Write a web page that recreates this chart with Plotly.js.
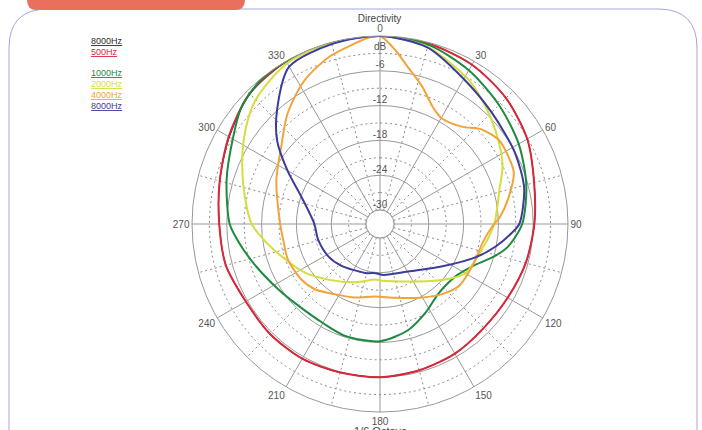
<!DOCTYPE html>
<html>
<head>
<meta charset="utf-8">
<script src="https://cdn.plot.ly/plotly-3.0.1.min.js"></script>
<style>html,body{margin:0;padding:0;background:#fff;}#chart{width:702px;height:430px;}</style>
</head>
<body>
<div id="chart"></div>
<script>
// ---- data (dB relative to on-axis, angle in degrees clockwise from top) ----
const seriesNames = ['8000Hz', '500Hz', '1000Hz', '2000Hz', '4000Hz', '8000Hz'];
const seriesColors = ['#2a2a2a', '#d8283a', '#1f8a3f', '#d4de3c', '#f2a43a', '#3c3c9c'];

const thetaBlack = [0, 15, 30, 45, 60, 75, 90, 105, 120, 135, 150, 165, 180, 195, 210, 225, 240, 255, 270, 285, 300, 315, 330, 345, 360];
const rBlack     = [0, -0.2, -0.7, -1.7, -3.1, -4.9, -5.8, -6.4, -7.0, -7.1, -6.6, -6.3, -6.0, -5.9, -5.6, -5.6, -5.7, -4.9, -4.7, -3.8, -2.4, -0.7, -0.1, 0, 0];

const thetaRed = [0, 15, 30, 45, 60, 75, 90, 105, 120, 135, 150, 165, 180, 195, 210, 225, 240, 255, 270, 285, 300, 315, 330, 345, 360];
const rRed     = [0, -0.2, -0.7, -1.7, -3.1, -4.9, -5.8, -6.4, -7.0, -7.1, -6.6, -6.3, -6.0, -5.9, -5.6, -5.6, -5.7, -4.9, -4.7, -3.8, -2.3, -0.6, 0, 0, 0];

const thetaGreen = [0, 15, 30, 45, 60, 75, 90, 100, 106, 113, 124, 139, 153, 165, 180, 197, 210, 225, 237, 252, 263, 270, 286, 300, 310, 320, 330, 345, 360];
const rGreen     = [0, -0.4, -1.8, -3.4, -4.8, -6.3, -7.9, -10.0, -12.0, -14.5, -16.5, -16.8, -15.2, -13.5, -12.2, -12.2, -12.7, -12.5, -11.6, -9.7, -7.8, -6.5, -4.9, -3.1, -1.2, -0.2, 0, 0, 0];

const thetaYellow = [0, 15, 32, 42, 51, 64, 74, 90, 100, 110, 120, 132, 153, 177, 185, 203, 223, 237, 250, 261, 270, 281, 294, 305, 315, 330, 345, 360];
const rYellow     = [0, -0.8, -3.3, -5.2, -6.8, -8.9, -11.0, -12.7, -13.9, -14.8, -15.4, -18.0, -21.3, -22.6, -22.8, -21.5, -19.3, -17.0, -14.9, -12.5, -10.3, -8.7, -6.4, -4.1, -2.1, -0.4, 0, 0];

const thetaOrange = [0, 5, 10, 17, 24, 30, 40, 47, 55, 62, 69, 78, 87, 91, 100, 114, 128, 138, 152, 168, 184, 199, 213, 225, 235, 249, 261, 270, 293, 308, 320, 332, 343, 352, 356, 360];
const rOrange     = [0, -2.3, -4.9, -7.6, -10.2, -11.3, -10.5, -8.5, -7.3, -7.4, -7.7, -9.7, -11.8, -13.0, -14.4, -14.9, -15.1, -16.2, -18.0, -19.4, -19.9, -19.0, -18.0, -16.5, -15.8, -15.4, -15.5, -15.2, -13.0, -10.8, -7.6, -4.5, -2.3, -1.0, -0.3, 0];

const thetaBlue = [0, 15, 29, 45, 62, 76, 90, 94, 101, 109, 124, 148, 176, 185, 197, 223, 238, 256, 270, 289, 300, 309, 318, 330, 345, 360];
const rBlue     = [0, -0.9, -3.4, -5.2, -6.1, -6.8, -8.4, -9.7, -12.1, -14.9, -19.4, -22.8, -23.6, -23.9, -23.6, -22.6, -21.9, -21.4, -21.1, -18.1, -14.0, -9.6, -5.9, -1.1, -0.3, 0];

const angleTicks = [0, 30, 60, 90, 120, 150, 180, 210, 240, 270, 300, 330];
const angleTickLabels = ['0', '30', '60', '90', '120', '150', '180', '210', '240', '270', '300', '330'];
const radialTicks = [-6, -12, -18, -24, -30];
const radialTickLabels = ['-6', '-12', '-18', '-24', '-30'];
const minorRings = [-27, -21, -15, -9, -3];
const minorSpokes = [15, 45, 75, 105, 135, 165, 195, 225, 255, 285, 315, 345];
const radialRange = [-30, 0];

// ---- geometry of the page (pixels) ----
const W = 702, H = 430;
const M = {l: 192, r: 134, t: 36, b: 18};
const PW = W - M.l - M.r, PH = H - M.t - M.b;
const px = x => (x - M.l) / PW;
const py = y => (H - M.b - y) / PH;
const FONT = 'Liberation Sans, Arial, sans-serif';

const traces = [];
// dotted minor grid
const fullCircle = [];
for (let a = 0; a <= 360; a += 2) fullCircle.push(a);
minorRings.forEach(v => traces.push({
  type: 'scatterpolar', mode: 'lines', theta: fullCircle, r: fullCircle.map(() => v),
  line: {color: '#8c8c8c', width: 1, dash: '2px,3px'}, hoverinfo: 'skip', showlegend: false
}));
minorSpokes.forEach(a => traces.push({
  type: 'scatterpolar', mode: 'lines', theta: [a, a], r: radialRange,
  line: {color: '#8c8c8c', width: 1, dash: '2px,3px'}, hoverinfo: 'skip', showlegend: false
}));
// inner ring
traces.push({
  type: 'scatterpolar', mode: 'lines', theta: fullCircle, r: fullCircle.map(() => radialRange[0]),
  line: {color: '#999', width: 1}, hoverinfo: 'skip', showlegend: false
});

const seriesTheta = [thetaBlack, thetaRed, thetaGreen, thetaYellow, thetaOrange, thetaBlue];
const seriesR = [rBlack, rRed, rGreen, rYellow, rOrange, rBlue];
seriesNames.forEach((n, i) => traces.push({
  type: 'scatterpolar', mode: 'lines', name: n, theta: seriesTheta[i], r: seriesR[i],
  line: {color: seriesColors[i], width: i === 0 ? 1.2 : 2, shape: 'spline', smoothing: 0.8},
  hoverinfo: 'skip', showlegend: false, cliponaxis: false
}));

// radial labels along 0 degrees
traces.push({
  type: 'scatterpolar', mode: 'text', theta: radialTicks.map(() => 0), r: radialTicks,
  text: radialTickLabels, textposition: 'top center',
  textfont: {family: FONT, size: 10, color: '#555'},
  hoverinfo: 'skip', showlegend: false, cliponaxis: false
});
traces.push({
  type: 'scatterpolar', mode: 'text', theta: [0], r: [-1.9],
  text: ['dB'], textposition: 'middle center',
  textfont: {family: FONT, size: 10, color: '#555'},
  hoverinfo: 'skip', showlegend: false, cliponaxis: false
});

// legend as coloured underlined text
const legendY = [41, 52, 73, 84, 95, 106];
const annotations = seriesNames.map((n, i) => ({
  xref: 'paper', yref: 'paper', x: px(89), y: py(legendY[i]), xanchor: 'left', yanchor: 'middle',
  text: '<u>' + n + '</u>', showarrow: false,
  font: {family: FONT, size: 9, color: seriesColors[i]}
}));
annotations.push({
  xref: 'paper', yref: 'paper', x: 0.5, y: py(431), xanchor: 'center', yanchor: 'middle',
  text: '1/6 Octave', showarrow: false,
  font: {family: FONT, size: 11, color: '#444'}
});

const framePath = `M ${px(9)} ${py(445)} L ${px(9)} ${py(48)} Q ${px(9)} ${py(9)} ${px(48)} ${py(9)} L ${px(658)} ${py(9)} Q ${px(697)} ${py(9)} ${px(697)} ${py(48)} L ${px(697)} ${py(445)}`;
const tabPath = `M ${px(27)} ${py(-5)} L ${px(27)} ${py(0)} Q ${px(27)} ${py(10)} ${px(37)} ${py(10)} L ${px(235)} ${py(10)} Q ${px(245)} ${py(10)} ${px(245)} ${py(0)} L ${px(245)} ${py(-5)} Z`;

const layout = {
  width: W, height: H,
  margin: M,
  paper_bgcolor: '#fff',
  showlegend: false,
  font: {family: FONT, color: '#555'},
  title: {text: 'Directivity', font: {size: 10, color: '#444'}, x: 379.5 / W, xanchor: 'center', y: 1 - 18 / H, yanchor: 'middle'},
  polar: {
    domain: {x: [0, 1], y: [0, 1]},
    hole: 14 / 188,
    bgcolor: '#fff',
    radialaxis: {
      range: radialRange, tickvals: radialTicks, showticklabels: false, ticks: '',
      showline: false, gridcolor: '#999', gridwidth: 1
    },
    angularaxis: {
      rotation: 90, direction: 'clockwise', tickvals: angleTicks, ticktext: angleTickLabels,
      ticks: '', showline: true, linecolor: '#999', linewidth: 1,
      gridcolor: '#999', gridwidth: 1,
      tickfont: {size: 10, color: '#555'}
    }
  },
  shapes: [
    {type: 'path', xref: 'paper', yref: 'paper', path: framePath, line: {color: '#a4a4e2', width: 1}},
    {type: 'path', xref: 'paper', yref: 'paper', path: tabPath, fillcolor: '#e8705c', line: {width: 0}}
  ],
  annotations: annotations
};

Plotly.newPlot('chart', traces, layout, {staticPlot: true, displayModeBar: false});
</script>
</body>
</html>
